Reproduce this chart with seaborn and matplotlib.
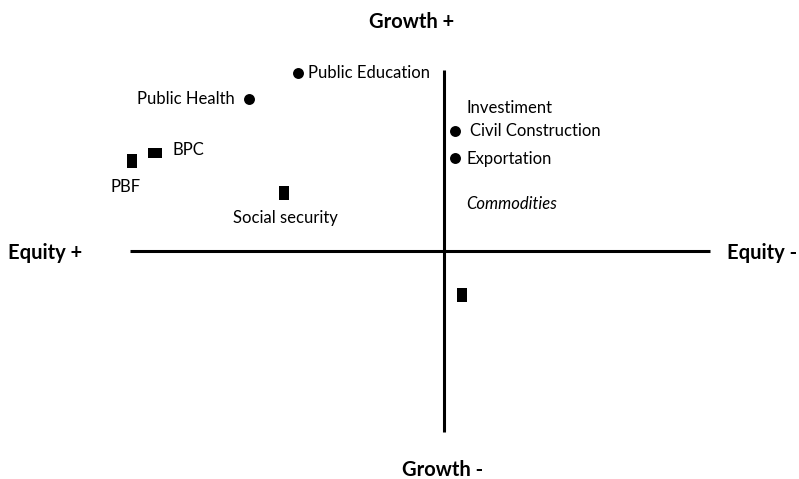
import matplotlib
matplotlib.use("Agg")
import matplotlib.pyplot as plt
from matplotlib.path import Path
import seaborn as sns
import pandas as pd

# ---- data (origin = crossing of the two axes; x: Equity + (left) .. Equity - (right), y: Growth - .. Growth +)
names = ["Public Education", "Public Health", "Civil Construction", "Exportation",
         "BPC", "PBF", "Social security", "Unlabeled"]
x_vals = [-146, -195, 11, 11, -289, -312, -160, 18]
y_vals = [178, 152, 120, 93, 98, 90, 58, -44]
kinds = ["circle", "circle", "circle", "circle", "wide", "tall", "tall", "tall"]

axis_labels = {"left": "Equity +", "right": "Equity -", "top": "Growth +", "bottom": "Growth -"}
extra_texts = ["Investiment", "Commodities"]

df = pd.DataFrame({"name": names, "x": x_vals, "y": y_vals, "kind": kinds})

sns.set_theme(style="white")
plt.rcParams["font.family"] = ["Lato", "DejaVu Sans"]

fig = plt.figure(figsize=(7.99, 4.79), dpi=100)
ax = fig.add_axes([0, 0, 1, 1])
ax.set_xlim(-444, 355)
ax.set_ylim(-228, 251)
ax.axis("off")

# quadrant axes
ax.plot([-314, 266], [0, 0], color="black", lw=2.2, solid_capstyle="butt")
ax.plot([0, 0], [-181, 181], color="black", lw=2.2, solid_capstyle="butt")

tall = Path([(-0.36, -0.5), (0.36, -0.5), (0.36, 0.5), (-0.36, 0.5), (-0.36, -0.5)],
            [Path.MOVETO, Path.LINETO, Path.LINETO, Path.LINETO, Path.CLOSEPOLY])
wide = Path([(-0.5, -0.36), (0.5, -0.36), (0.5, 0.36), (-0.5, 0.36), (-0.5, -0.36)],
            [Path.MOVETO, Path.LINETO, Path.LINETO, Path.LINETO, Path.CLOSEPOLY])

sns.scatterplot(data=df[df.kind == "circle"], x="x", y="y", marker="o", s=62,
                color="black", edgecolor="black", linewidth=0, ax=ax, legend=False)
sns.scatterplot(data=df[df.kind == "tall"], x="x", y="y", marker=tall, s=100,
                color="black", edgecolor="black", linewidth=0, ax=ax, legend=False)
sns.scatterplot(data=df[df.kind == "wide"], x="x", y="y", marker=wide, s=100,
                color="black", edgecolor="black", linewidth=0, ax=ax, legend=False)

fs = 12
lab = dict(fontsize=fs, color="black", va="center")
# labels (positions relative to points)
ax.text(-136, 178, "Public Education", ha="left", **lab)
ax.text(-209, 152, "Public Health", ha="right", **lab)
ax.text(22, 143, extra_texts[0], ha="left", **lab)
ax.text(26, 120, "Civil Construction", ha="left", **lab)
ax.text(22, 92, "Exportation", ha="left", **lab)
ax.text(22, 47, extra_texts[1], ha="left", style="italic", **lab)
ax.text(-271, 101, "BPC", ha="left", **lab)
ax.text(-333, 64, "PBF", ha="left", **lab)
ax.text(-211, 33, "Social security", ha="left", **lab)

bold = dict(fontsize=14.5, fontweight="bold", color="black", va="center")
ax.text(-436, -2, axis_labels["left"], ha="left", **bold)
ax.text(283, -2, axis_labels["right"], ha="left", **bold)
ax.text(-32, 229, axis_labels["top"], ha="center", **bold)
ax.text(-1, -219, axis_labels["bottom"], ha="center", **bold)

fig.savefig("out.png", dpi=100)
